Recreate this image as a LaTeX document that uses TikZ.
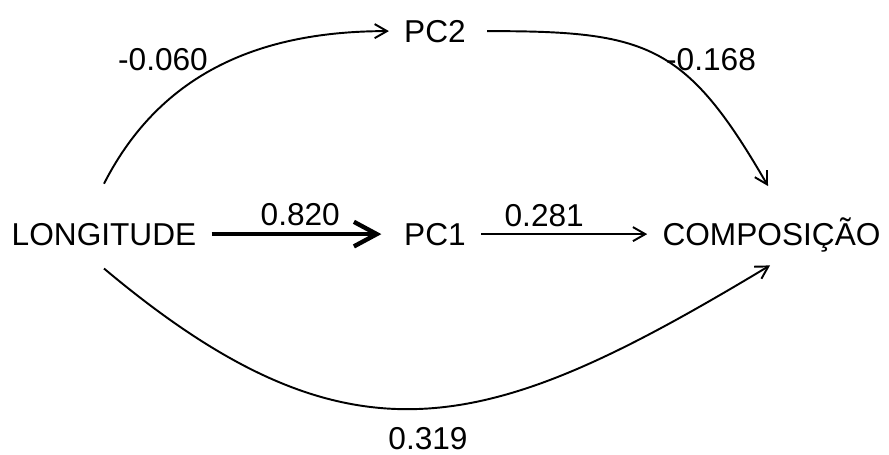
\documentclass[tikz,border=0pt]{standalone}
\usepackage{fontspec}
\setmainfont{Liberation Sans}
\usepackage{tikz}
\usetikzlibrary{arrows.meta,positioning}

\begin{document}
\begin{tikzpicture}[
  var/.style={anchor=base, inner xsep=0.3cm, inner ysep=3.33pt},
  coef/.style={font=\fontsize{18}{21}\selectfont},
  arrow/.style={-{Straight Barb[length=7pt, width=8pt]}, line width=1.1pt},
  strong/.style={-{Straight Barb[length=13pt, width=14pt]}, line width=2.5pt},
  every node/.style={font=\fontsize{18}{21}\selectfont}
]
  \useasboundingbox (0,0) rectangle (17.78,9.08);

  % Variables
  \node[var] (lon) at (2.08,4.18) {LONGITUDE};
  \node[var] (pc1) at (8.70,4.18) {PC1};
  \node[var] (pc2) at (8.70,8.24) {PC2};
  \node[var] (comp) at (15.43,4.18) {COMPOSIÇÃO};

  % Path coefficients on the curves
  \node[coef, anchor=base] (c1) at (3.26,7.68) {-0.060};
  \node[coef, anchor=base] (c2) at (14.22,7.68) {-0.168};
  \node[coef, anchor=base] (c3) at (8.56,0.10) {0.319};

  % Arrows
  \draw[strong, shorten >=0.15cm] (lon) -- node[above] {0.820} (pc1);
  \draw[arrow] (pc1.east) -- node[above, pos=0.38] {0.281} (pc1.east -| comp.west);
  \draw[arrow] ([yshift=0.66cm]lon.north) to[out=63, in=180] (pc2.west);
  \draw[arrow, shorten <=0.12cm] (pc2.east) to[out=0, in=120, looseness=1.3] ([xshift=-0.07cm, yshift=0.5cm]comp.north);
  \draw[arrow] ([yshift=-0.34cm]lon.south) to[out=-40, in=211, looseness=1.25] ([xshift=-0.03cm, yshift=-0.15cm]comp.south);
\end{tikzpicture}
\end{document}
